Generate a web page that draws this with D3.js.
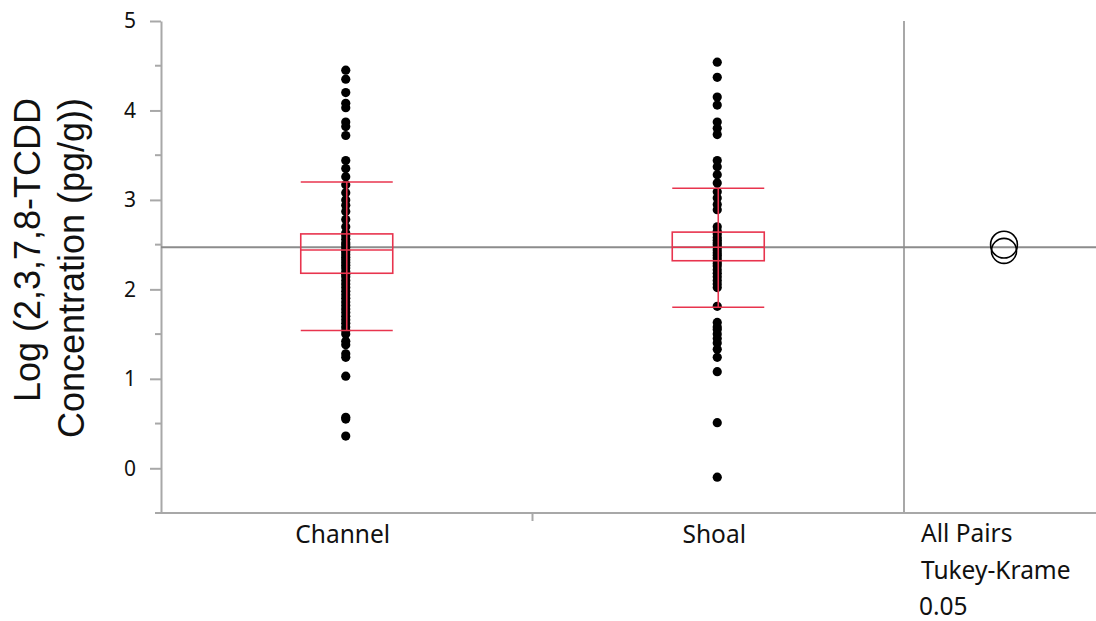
<!DOCTYPE html>
<meta charset="utf-8">
<script src="https://d3js.org/d3.v7.min.js"></script>
<style>
  body { margin: 0; background: #fff; }
  .tick text { font-family: "Noto Sans", "Open Sans", sans-serif; font-size: 21px; fill: #111; }
</style>
<div id="chart"></div>
<script>

// groups and observed values (log pg/g)
const groups = ["Channel", "Shoal"];
const channelVals = [4.45, 4.35, 4.2, 4.08, 4.03, 3.87, 3.82, 3.72, 3.44, 3.35, 3.26, 3.17, 3.08, 3.0, 2.94,
  2.87, 2.78, 2.7, 2.63, 2.6, 2.56, 2.52, 2.5, 2.47, 2.44, 2.42, 2.39, 2.36, 2.33, 2.3, 2.27, 2.24, 2.2,
  2.17, 2.14, 2.1, 2.06, 2.02, 1.98, 1.94, 1.9, 1.86, 1.82, 1.78, 1.74, 1.7, 1.66, 1.62, 1.58, 1.54, 1.5,
  1.42, 1.38, 1.28, 1.24, 1.03, 0.57, 0.55, 0.36];
const shoalVals = [4.54, 4.37, 4.15, 4.06, 3.87, 3.8, 3.73, 3.44, 3.37, 3.28, 3.19, 3.09, 3.02, 2.95, 2.89,
  2.7, 2.65, 2.62, 2.58, 2.55, 2.52, 2.5, 2.47, 2.44, 2.41, 2.38, 2.35, 2.32, 2.29, 2.26, 2.22, 2.18, 2.14,
  2.1, 2.06, 2.02, 1.81, 1.63, 1.58, 1.55, 1.5, 1.45, 1.4, 1.33, 1.24, 1.08, 0.51, -0.1];

// box summaries per group
const boxUpper = [2.62, 2.64];
const boxLower = [2.18, 2.32];
const boxMid = [2.44, 2.47];
const whiskerHigh = [3.2, 3.13];
const whiskerLow = [1.54, 1.8];

// grand mean and comparison circles (Tukey-Kramer)
const grandMean = 2.47;
const circleMeans = [2.43, 2.5];
const circleRadii = [0.14, 0.15];

const yTicks = [0, 1, 2, 3, 4, 5];
const yMinor = [-0.5, 0.5, 1.5, 2.5, 3.5, 4.5];

const W = 1096, H = 621;
const plotLeft = 161, plotRight = 1096, plotTop = 21, plotBottom = 513, split = 904;

const svg = d3.select("#chart").append("svg")
  .attr("width", W).attr("height", H);

const x = d3.scaleBand().domain(groups).range([plotLeft, split]);
const y = d3.scaleLinear().domain([-0.5, 5]).range([plotBottom, plotTop]);

// y axis with major and minor ticks
const yAxis = svg.append("g")
  .attr("transform", `translate(${plotLeft},0)`)
  .call(d3.axisLeft(y).tickValues(yTicks).tickFormat(d3.format("d"))
    .tickSize(11).tickPadding(14).tickSizeOuter(0));
yAxis.select(".domain").attr("stroke", "#a8a8a8").attr("stroke-width", 2);
yAxis.selectAll(".tick line").attr("stroke", "#a8a8a8").attr("stroke-width", 2);

svg.append("g")
  .attr("transform", `translate(${plotLeft},0)`)
  .selectAll("line")
  .data(yMinor)
  .join("line")
    .attr("x1", -6).attr("x2", 0)
    .attr("y1", d => y(d)).attr("y2", d => y(d))
    .attr("stroke", "#a8a8a8").attr("stroke-width", 2);

// bottom axis line and split tick
svg.append("line")
  .attr("x1", plotLeft - 1).attr("x2", plotRight)
  .attr("y1", plotBottom).attr("y2", plotBottom)
  .attr("stroke", "#a8a8a8").attr("stroke-width", 2);
svg.append("line")
  .attr("x1", x("Shoal")).attr("x2", x("Shoal"))
  .attr("y1", plotBottom).attr("y2", plotBottom + 8)
  .attr("stroke", "#a8a8a8").attr("stroke-width", 2);

// divider before comparison circles
svg.append("line")
  .attr("x1", split).attr("x2", split)
  .attr("y1", plotTop).attr("y2", plotBottom)
  .attr("stroke", "#a8a8a8").attr("stroke-width", 2);

// grand mean line
svg.append("line")
  .attr("x1", plotLeft).attr("x2", plotRight)
  .attr("y1", y(grandMean)).attr("y2", y(grandMean))
  .attr("stroke", "#8c8c8c").attr("stroke-width", 2);

// group labels
svg.selectAll(".glabel")
  .data(groups)
  .join("text")
    .attr("x", d => x(d) + x.bandwidth() / 2 - 4)
    .attr("y", 543)
    .attr("text-anchor", "middle")
    .style("font-family", "'Noto Sans', 'Open Sans', sans-serif")
    .style("font-size", "24.5px")
    .style("fill", "#111")
    .text(d => d);

const noteLines = ["All Pairs", "Tukey-Krame", "0.05"];
svg.selectAll(".note")
  .data(noteLines)
  .join("text")
    .attr("x", (d, i) => i == 2 ? 919 : 921)
    .attr("y", (d, i) => 542 + i * 36.5)
    .style("font-family", "'Noto Sans', 'Open Sans', sans-serif")
    .style("font-size", "24.5px")
    .style("fill", "#111")
    .text(d => d);

// y axis title
const titleLines = [
  {t: "Log (2,3,7,8-TCDD", cx: 250, base: 40},
  {t: "Concentration (pg/g))", cx: 268, base: 84}
];
svg.selectAll(".ytitle")
  .data(titleLines)
  .join("text")
    .attr("transform", d => `translate(${d.base},${d.cx}) rotate(-90)`)
    .attr("text-anchor", "middle")
    .style("font-family", "'Liberation Sans', Arial, sans-serif")
    .style("font-size", "36px")
    .style("fill", "#111")
    .text(d => d.t);

// points
const pts = [];
channelVals.forEach(v => pts.push({g: "Channel", v: v}));
shoalVals.forEach(v => pts.push({g: "Shoal", v: v}));

svg.append("g")
  .selectAll("circle")
  .data(pts)
  .join("circle")
    .attr("cx", d => x(d.g) + x.bandwidth() / 2 - 1)
    .attr("cy", d => y(d.v))
    .attr("r", 4.6)
    .attr("fill", "#000");

// box, whisker bars
const red = "#e8344e";
const bw = 92;
const boxes = groups.map((g, i) => ({
  g: g, up: boxUpper[i], lo: boxLower[i], mid: boxMid[i], wh: whiskerHigh[i], wl: whiskerLow[i]
}));
const bg = svg.append("g").attr("fill", "none").attr("stroke", red).attr("stroke-width", 1.6);
boxes.forEach(b => {
  const cx = x(b.g) + x.bandwidth() / 2;
  bg.append("rect")
    .attr("x", cx - bw / 2).attr("width", bw)
    .attr("y", y(b.up)).attr("height", y(b.lo) - y(b.up));
  [b.mid, b.wh, b.wl].forEach(v => {
    bg.append("line")
      .attr("x1", cx - bw / 2).attr("x2", cx + bw / 2)
      .attr("y1", y(v)).attr("y2", y(v));
  });
  bg.append("line")
    .attr("x1", cx).attr("x2", cx)
    .attr("y1", y(b.wh)).attr("y2", y(b.wl));
});

// comparison circles
const rScale = v => y(0) - y(v);
svg.append("g")
  .selectAll("circle")
  .data(circleMeans)
  .join("circle")
    .attr("cx", 1004)
    .attr("cy", d => y(d))
    .attr("r", (d, i) => rScale(circleRadii[i]))
    .attr("fill", "none")
    .attr("stroke", "#000")
    .attr("stroke-width", 1.6);

</script>
